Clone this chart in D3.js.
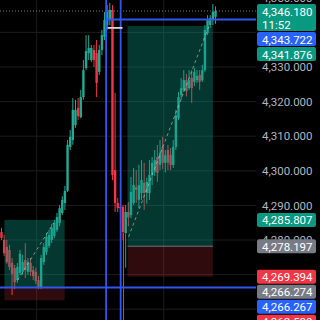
<!DOCTYPE html>
<html><head><meta charset="utf-8">
<script src="https://cdn.jsdelivr.net/npm/d3@7"></script>
<style>html,body{margin:0;padding:0;background:#000;overflow:hidden}svg{display:block}</style>
</head><body>
<svg id="c" width="320" height="320"></svg>
<script>
// ---- data (prices) ----
const open  = [4282.3,4280.0,4278.0,4277.1,4273.4,4271.9,4268.4,4270.5,4270.8,4274.2,4270.8,4273.4,4271.3,4270.8,4268.4,4266.4,4273.6,4276.5,4278.3,4280.0,4281.2,4282.9,4284.9,4287.8,4290.7,4294.2,4306.9,4308.9,4313.2,4318.2,4315.5,4321.3,4329.7,4334.0,4332.0,4334.9,4334.0,4328.6,4334.9,4338.7,4342.1,4343.6,
               4346.5,4300.2,4290.7,4289.2,4289.5,4282.0,4288.1,4287.2,4290.7,4295.3,4291.6,4293.6,4296.5,4293.6,4293.6,4298.8,4299.7,4304.0,4301.7,4306.9,4302.3,4306.0,4304.6,4301.7,4306.9,4315.2,4321.9,4323.4,4326.2,4323.9,4326.8,4325.7,4326.2,4327.7,4326.2,4329.1,4339.8,4342.1,4343.6,4344.5];
const high  = [4283.5,4281.5,4280.0,4278.6,4274.8,4272.8,4273.4,4277.1,4275.7,4279.1,4274.8,4274.8,4272.5,4272.0,4269.6,4275.7,4279.1,4282.0,4282.9,4284.6,4285.8,4287.8,4290.1,4292.7,4295.6,4308.9,4311.8,4321.0,4320.5,4321.0,4323.4,4332.0,4339.2,4339.2,4336.4,4336.4,4337.8,4336.4,4340.7,4345.9,4347.9,4348.5,
               4347.9,4322.5,4292.2,4290.7,4290.1,4290.1,4291.0,4298.2,4300.8,4300.2,4301.7,4303.1,4302.3,4298.0,4303.1,4304.0,4306.0,4307.5,4308.9,4309.8,4306.0,4307.5,4306.6,4308.9,4317.6,4322.8,4326.8,4329.1,4328.0,4329.1,4329.1,4329.7,4329.1,4329.1,4330.6,4342.1,4345.0,4345.0,4348.2,4347.5];
const low   = [4280.0,4275.4,4273.1,4271.3,4264.1,4265.8,4267.6,4269.9,4269.9,4269.0,4269.9,4269.6,4268.4,4267.2,4265.8,4265.8,4272.8,4275.7,4277.7,4279.1,4280.6,4282.3,4284.0,4287.2,4288.7,4293.9,4306.0,4307.5,4312.4,4314.7,4315.2,4320.5,4329.1,4332.0,4331.4,4330.0,4321.3,4327.7,4333.5,4337.8,4340.7,4342.1,
               4297.3,4288.1,4288.1,4287.5,4280.0,4272.0,4284.0,4286.3,4290.1,4290.7,4289.2,4291.6,4288.7,4290.5,4291.6,4295.9,4298.5,4296.8,4300.2,4300.5,4299.5,4300.2,4300.2,4300.8,4306.0,4314.7,4320.5,4322.8,4321.5,4323.4,4319.6,4324.5,4325.4,4323.4,4325.7,4328.6,4339.2,4341.3,4342.1,4342.5];
const close = [4280.6,4276.2,4273.6,4272.2,4270.2,4267.8,4272.2,4276.0,4273.6,4271.3,4273.6,4270.8,4269.6,4268.1,4266.4,4274.8,4278.0,4280.9,4281.5,4283.5,4284.9,4286.6,4289.2,4291.6,4294.2,4307.5,4309.8,4317.6,4317.6,4315.8,4321.3,4329.1,4334.6,4335.5,4335.5,4332.0,4325.4,4334.9,4339.2,4343.6,4345.9,4346.5,
               4298.8,4290.7,4289.2,4289.5,4282.3,4288.1,4286.5,4293.9,4295.9,4294.5,4295.9,4297.3,4293.6,4296.8,4298.8,4302.3,4303.1,4299.4,4305.2,4302.3,4304.5,4302.3,4301.7,4306.9,4316.1,4321.3,4323.9,4326.2,4323.0,4326.2,4323.9,4328.6,4327.4,4325.7,4329.1,4340.7,4343.6,4344.1,4345.9,4346.18];

const priceTicks = [4250,4260,4270,4280,4290,4300,4310,4320,4330,4340,4350];
const timeGrid = [13.3, 61.4];               // candle-index positions of vertical grid
// long-position tools: [startIdx, endIdx, entry, target, stop]
const longLeft  = [1.1, 23.9, 4266.274, 4285.807, 4262.580];
const longRight = [47.7, 80.0, 4278.197, 4341.876, 4269.394];
// dashed connectors inside the tools: [idx1, price1, idx2, price2]
const connLeft  = [6.1, 4268.4, 19.7, 4284.9];
const connRight = [48.1, 4280.9, 78.4, 4341.6];
const vBlue = [39.6, 45.1];                  // vertical blue lines (candle index)
const hBlueTop = [39.6, 4343.722];           // from idx, price
const hBlueBottom = 4266.267;
const lastPrice = 4346.180, countdown = "11:52";
const whiteMark = [40.2, 45.8, 4341.3];
const redVLine = [46.2, 4282.0];
// price-scale labels
const labelValues = [4346.180, 4343.722, 4341.876, 4285.807, 4278.197, 4269.394, 4266.274, 4266.267, 4262.580];
const labelKinds  = ["last","line","target","target","entry","stop","entry","line","stop"];

// ---- drawing ----
const W = 320, H = 320, plotR = 256;
const kindColor = {last:"#089981", line:"#2962ff", target:"#089981", entry:"#787b86", stop:"#f23645"};
const svg = d3.select("#c");
svg.append("rect").attr("width",W).attr("height",H).attr("fill","#000");

const N = open.length;
const x = d3.scaleLinear().domain([0, N-1]).range([1.5, 215.5]);
const y = d3.scaleLinear().domain([4260, 4330]).range([309.2, 67]);
const fmt = d3.format(",.3f");

// grid
const g = svg.append("g");
g.selectAll("line.h").data(priceTicks).join("line")
  .attr("x1",0).attr("x2",plotR).attr("y1",d=>y(d)).attr("y2",d=>y(d))
  .attr("stroke","#1c1c1c").attr("stroke-width",1);
g.selectAll("line.v").data(timeGrid).join("line")
  .attr("x1",d=>x(d)).attr("x2",d=>x(d)).attr("y1",0).attr("y2",H)
  .attr("stroke","#1c1c1c").attr("stroke-width",1);

// candles
const idx = d3.range(N);
const up = i => close[i] >= open[i];
const cg = svg.append("g");
cg.selectAll("line").data(idx).join("line")
  .attr("x1",i=>x(i)).attr("x2",i=>x(i))
  .attr("y1",i=>y(high[i])).attr("y2",i=>y(low[i]))
  .attr("stroke",i=>up(i)?"#22ab94":"#f23645").attr("stroke-width",1);
cg.selectAll("rect").data(idx).join("rect")
  .attr("x",i=>x(i)-1.2).attr("width",2.4)
  .attr("y",i=>y(Math.max(open[i],close[i])))
  .attr("height",i=>Math.max(1, Math.abs(y(open[i])-y(close[i]))))
  .attr("fill",i=>up(i)?"#22ab94":"#f23645");

// long position tools
function longTool(t, conn){
  const [a,b,entry,target,stop] = t;
  svg.append("rect").attr("x",x(a)).attr("width",x(b)-x(a))
    .attr("y",y(target)).attr("height",y(entry)-y(target))
    .attr("fill","rgba(8,153,129,0.36)");
  svg.append("rect").attr("x",x(a)).attr("width",x(b)-x(a))
    .attr("y",y(entry)).attr("height",y(stop)-y(entry))
    .attr("fill","rgba(242,54,69,0.2)");
  svg.append("line").attr("x1",x(conn[0])).attr("y1",y(conn[1]))
    .attr("x2",x(conn[2])).attr("y2",y(conn[3]))
    .attr("stroke","rgba(220,220,220,0.55)").attr("stroke-width",1).attr("stroke-dasharray","3,3");
}
longTool(longLeft, connLeft);
longTool(longRight, connRight);
svg.append("line").attr("x1",x(longRight[0])).attr("x2",x(longRight[1]))
  .attr("y1",y(longRight[2])).attr("y2",y(longRight[2]))
  .attr("stroke","rgba(200,200,200,0.5)").attr("stroke-width",1);

// last price dotted line
svg.append("line").attr("x1",0).attr("x2",plotR).attr("y1",y(lastPrice)).attr("y2",y(lastPrice))
  .attr("stroke","#7a7d86").attr("stroke-width",1).attr("stroke-dasharray","1,2");

// red vertical line
svg.append("line").attr("x1",x(redVLine[0])).attr("x2",x(redVLine[0]))
  .attr("y1",y(redVLine[1])).attr("y2",H).attr("stroke","#d9443d").attr("stroke-width",1);

// blue lines
svg.append("line").attr("x1",x(hBlueTop[0])).attr("x2",plotR).attr("y1",y(hBlueTop[1])).attr("y2",y(hBlueTop[1]))
  .attr("stroke","#3057f0").attr("stroke-width",1.8);
svg.append("line").attr("x1",0).attr("x2",plotR).attr("y1",y(hBlueBottom)).attr("y2",y(hBlueBottom))
  .attr("stroke","#3057f0").attr("stroke-width",1.8);
svg.selectAll("line.vb").data(vBlue).join("line")
  .attr("x1",d=>x(d)).attr("x2",d=>x(d)).attr("y1",0).attr("y2",H)
  .attr("stroke","#3057f0").attr("stroke-width",1.8);

// white marker
svg.append("line").attr("x1",x(whiteMark[0])).attr("x2",x(whiteMark[1]))
  .attr("y1",y(whiteMark[2])).attr("y2",y(whiteMark[2]))
  .attr("stroke","#d8d8d8").attr("stroke-width",1.8);

// stacked price label boxes (computed first so covered tick labels can be dropped)
const order = d3.range(labelValues.length).sort((a,b)=>labelValues[b]-labelValues[a]);
let prevBottom = -100;
const boxes = [];
order.forEach(i=>{
  const k = labelKinds[i];
  const h = k==="last" ? 27 : 14;
  let top = y(labelValues[i]) - 7;
  if (top < prevBottom + 1) top = prevBottom + 1;
  boxes.push({i, k, top, h});
  prevBottom = top + h;
});
const inBox = py => boxes.some(b => py >= b.top - 1.5 && py <= b.top + b.h + 1.5);
const covered = v => inBox(y(v) - 4) && inBox(y(v) + 4);

// price axis
const axis = d3.axisRight(y).tickValues(priceTicks.filter(v=>!covered(v))).tickFormat(fmt).tickSize(0).tickPadding(6);
const ax = svg.append("g").attr("transform",`translate(${plotR},0)`).call(axis);
ax.select(".domain").remove();
ax.selectAll("text").attr("fill","#b2b5be").attr("font-family","Roboto, sans-serif").attr("font-size",11.5);

const lg = svg.append("g");
boxes.forEach(b=>{
  lg.append("rect").attr("x",plotR+1).attr("y",b.top).attr("width",59).attr("height",b.h)
    .attr("rx",2).attr("fill",kindColor[b.k]);
  lg.append("text").attr("x",plotR+6).attr("y",b.top+7.5).attr("dominant-baseline","central")
    .attr("fill","#fff").attr("font-family","Roboto, sans-serif").attr("font-size",11.5)
    .text(fmt(labelValues[b.i]));
  if (b.k==="last") {
    lg.append("text").attr("x",plotR+6).attr("y",b.top+20.5).attr("dominant-baseline","central")
      .attr("fill","#fff").attr("font-family","Roboto, sans-serif").attr("font-size",11.5)
      .text(countdown);
  }
});
</script>
</body></html>
